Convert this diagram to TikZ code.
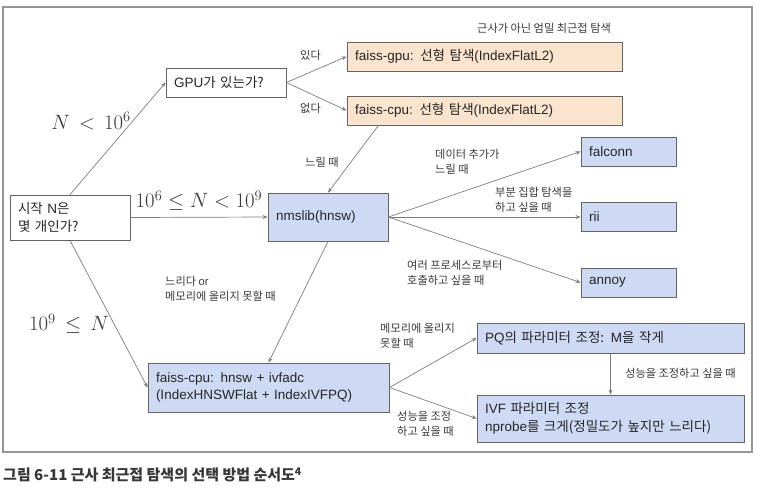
\documentclass[tikz,border=0pt]{standalone}
\usepackage[no-math]{fontspec}
\setmainfont{Liberation Sans}
\newfontfamily\krfont{Noto Sans CJK KR}
\newcommand{\kr}[1]{{\krfont #1}}
\usetikzlibrary{arrows.meta, positioning}
\definecolor{ztan}{RGB}{250, 228, 205}
\definecolor{zblue}{RGB}{206, 217, 243}
\definecolor{zgray}{RGB}{100, 100, 100}
\definecolor{zline}{RGB}{125, 125, 125}
\definecolor{zframe}{RGB}{150, 150, 150}
\definecolor{ztext}{RGB}{55, 55, 55}

\begin{document}
\begin{tikzpicture}[
  x=1pt, y=-1pt,
  every node/.style={inner sep=0pt},
  box/.style={rectangle, draw=zgray, line width=0.8pt,
              inner xsep=8pt, inner ysep=0pt, align=left,
              text width=#1, font=\fontsize{13.5}{17.5}\selectfont, text=black!85},
  ask/.style={box=#1, fill=white},
  exact/.style={box=#1, fill=ztan},
  approx/.style={box=#1, fill=zblue},
  arr/.style={-{Stealth[length=5pt, width=4pt]}, draw=zline, line width=0.7pt},
  lbl/.style={anchor=west, align=left, text=ztext,
              font=\krfont\fontsize{11.2}{15.5}\selectfont},
  cond/.style={font=\fontsize{21}{24}\selectfont, text=ztext}
]
\useasboundingbox (0,0) rectangle (757,490);

% Frame
\draw[draw=zframe, line width=1.2pt] (3,7) rectangle (752,452);

% Boxes
\node[ask=104pt, minimum height=45pt]    (start)   at (70,217.5)   {\kr{시작} N\kr{은}\\\kr{몇 개인가?}};
\node[ask=104pt, minimum height=29pt]    (gpu)     at (226,82.5)   {GPU\kr{가 있는가?}};
\node[exact=259pt, minimum height=29pt]  (fgpu)    at (484.5,56.5) {faiss-gpu: \kr{선형 탐색}(IndexFlatL2)};
\node[exact=259pt, minimum height=29pt]  (fcpu)    at (484.5,110.5) {faiss-cpu: \kr{선형 탐색}(IndexFlatL2)};
\node[approx=104pt, minimum height=48pt] (nms)     at (328,217)    {nmslib(hnsw)};
\node[approx=79pt, minimum height=29pt]  (falconn) at (628.5,151.5) {falconn};
\node[approx=79pt, minimum height=29pt]  (rii)     at (628.5,217)  {rii};
\node[approx=79pt, minimum height=29pt]  (annoy)   at (628.5,282.5) {annoy};
\node[approx=225pt, minimum height=49pt] (hnsw)    at (268.5,387.5) {faiss-cpu: hnsw + ivfadc\\(IndexHNSWFlat + IndexIVFPQ)};
\node[approx=251pt, minimum height=30pt] (pq)      at (610.5,338)  {PQ\kr{의 파라미터 조정:} M\kr{을 작게}};
\node[approx=251pt, minimum height=47pt] (ivf)     at (610.5,418.5) {IVF \kr{파라미터 조정}\\nprobe\kr{를 크게(정밀도가 높지만 느리다)}};

% Conditions on N
\node[cond] (nlow)  at (91,121)  {$N \, < \, 10^6$};
\node[cond] (nmid)  at (199,201) {$10^6 \le N < 10^9$};
\node[cond] (nhigh) at (69,324)  {$10^9 \, \le \, N$};

% Labels
\node[lbl] (exactlbl) at (477,28)  {근사가 아닌 엄밀 최근접 탐색};
\node[lbl] (yes)      at (300,55)  {있다};
\node[lbl] (no)       at (300,108) {없다};
\node[lbl] (slow)     at (305,162) {느릴 때};
\node[lbl] (addslow)  at (435,162) {데이터 추가가\\느릴 때};
\node[lbl] (subset)   at (495,200) {부분 집합 탐색을\\하고 싶을 때};
\node[lbl] (multi)    at (407,273) {여러 프로세스로부터\\호출하고 싶을 때};
\node[lbl] (slowmem)  at (165,289) {느리다 {\rmfamily or}\\메모리에 올리지 못할 때};
\node[lbl] (nomem)    at (380,336) {메모리에 올리지\\못할 때};
\node[lbl] (tune)     at (397,424) {성능을 조정\\하고 싶을 때};
\node[lbl] (tune2)    at (625,373) {성능을 조정하고 싶을 때};

% Caption
\node[anchor=west, text=ztext, font=\krfont\bfseries\fontsize{15}{18}\selectfont]
  (caption) at (3,475) {그림 6-11 근사 최근접 탐색의 선택 방법 순서도\textsuperscript{4}};

% Arrows
\draw[arr] (start.north) -- (gpu.west);
\draw[arr] (start.east)  -- (nms.west);
\draw[arr] (start.south) -- (hnsw.west);
\draw[arr] (gpu.east)    -- (fgpu.west);
\draw[arr] (gpu.east)    -- (fcpu.west);
\draw[arr] (fcpu.188)    -- (nms.north);
\foreach \lib in {falconn, rii, annoy}
  \draw[arr] (nms.east) -- (\lib.west);
\draw[arr] (nms.south)   -- (hnsw.north);
\draw[arr] (hnsw.east)   -- (pq.west);
\draw[arr] (hnsw.east)   -- (ivf.west);
\draw[arr] (pq.south)    -- (ivf.north);

\end{tikzpicture}
\end{document}
